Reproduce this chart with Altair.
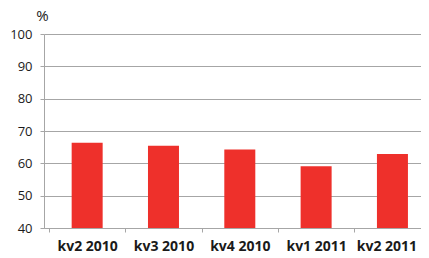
import altair as alt
import pandas as pd

categories = ["kv2 2010", "kv3 2010", "kv4 2010", "kv1 2011", "kv2 2011"]
values = [66.4, 65.4, 64.3, 59.1, 62.9]

df = pd.DataFrame({"kvartal": categories, "procent": values})
df["pos"] = range(len(categories))
df["edge"] = df["pos"] - 0.5

FONT = "Open Sans"
GRID = "#a6a6a6"
W, H = 377, 194
STEP = 78.4
xdomain = [-0.5, -0.5 + W / STEP]

label_expr = "[" + ",".join(f"'{c}'" for c in categories) + "][datum.value]"
xscale = alt.Scale(domain=xdomain, nice=False, zero=False)
last = len(categories) - 1

yenc = alt.Y(
    "procent:Q",
    scale=alt.Scale(domain=[40, 100], nice=False, zero=False),
    axis=alt.Axis(
        values=[40, 50, 60, 70, 80, 90, 100], grid=True, gridColor=GRID,
        domainColor=GRID, tickColor=GRID, tickSize=4,
        labelFont=FONT, labelFontSize=13, labelColor="#1a1a1a", labelPadding=8,
        title="%", titleAngle=0, titleFont=FONT, titleFontSize=15,
        titleFontWeight="normal", titleColor="#1a1a1a",
        titleAlign="center", titleBaseline="bottom", titleX=-2, titleY=-11,
    ),
)

bars = alt.Chart(df).mark_bar(color="#ee302b", clip=True, size=31).encode(
    x=alt.X(
        "pos:Q", scale=xscale,
        axis=alt.Axis(
            title=None, orient="bottom", values=list(range(len(categories))),
            labelExpr=label_expr, labelAngle=0, grid=False, ticks=False,
            domainColor=GRID, labelFont=FONT, labelFontSize=14,
            labelFontWeight="bold", labelColor="#1a1a1a", labelPadding=11,
            labelFlush=False, labelOverlap=False,
            labelOffset={"condition": {"test": f"datum.value == {last}", "value": -6}, "value": 0},
        ),
    ),
    y=yenc,
)

ticks = alt.Chart(df).mark_tick(opacity=0).encode(
    x=alt.X(
        "edge:Q", scale=xscale,
        axis=alt.Axis(
            title=None, orient="bottom", values=[p - 0.5 for p in range(len(categories) + 1)],
            labels=False, grid=False, domain=False, ticks=True,
            tickColor=GRID, tickSize=4,
        ),
    ),
)

chart = alt.layer(bars, ticks).resolve_axis(x="independent").properties(
    width=W, height=H,
    autosize=alt.AutoSizeParams(type="none"),
    padding={"left": 36, "top": 26, "right": 0, "bottom": 25},
).configure_view(stroke=None).configure_axis(gridOpacity=1)

chart.save("out.html", embed_options={"renderer": "svg", "actions": False})
